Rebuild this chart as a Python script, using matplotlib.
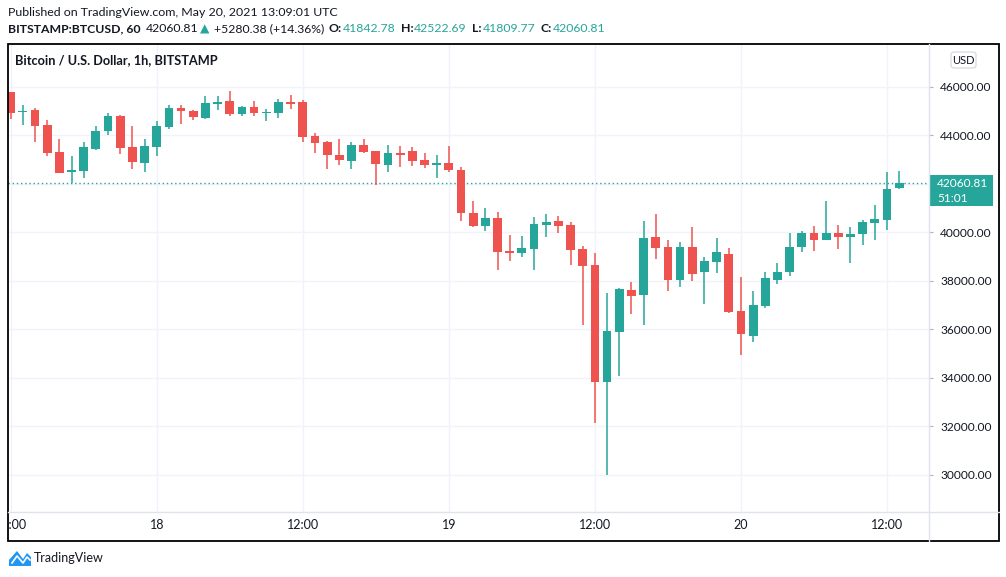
import matplotlib
matplotlib.use("Agg")
import matplotlib.pyplot as plt
from matplotlib.patches import Rectangle, FancyBboxPatch, Polygon
from matplotlib.lines import Line2D
from matplotlib.transforms import Bbox

plt.rcParams['font.family'] = ['Lato', 'DejaVu Sans']

# hourly candles, BITSTAMP:BTCUSD, from May 17 12:00 to May 20 13:00 UTC
opens = [45794, 44957, 45051, 44433, 43332, 42507, 42548, 43455, 44198, 44816,
         43526, 42878, 43538, 44363, 45134, 45010, 44734, 45311, 45423, 44899,
         45175, 44940, 44940, 45381, 45381, 43979, 43732, 43196, 42961, 43608,
         43361, 42796, 43278, 43361, 42990, 42796, 42866, 42577, 40816, 40280,
         40598, 39249, 39166, 39331, 40321, 40474, 40309, 39319, 38659, 33846,
         35909, 37628, 37434, 39814, 39402, 38041, 39402, 38383, 38795, 39113,
         36762, 35743, 36981, 38041, 38383, 39414, 39979, 39703, 39979, 39826,
         39950, 40404, 40527, 41842.78]
highs = [45800, 45258, 45134, 44639, 43855, 43154, 43732, 44392, 44928, 44858,
         44392, 43855, 44598, 45258, 45258, 45051, 45629, 45629, 45835, 45217,
         45423, 45093, 45505, 45670, 45450, 44103, 43760, 43855, 43732, 43855,
         43380, 43608, 43567, 43526, 43278, 43196, 43567, 42713, 41299, 41010,
         40845, 39897, 39855, 40639, 40763, 40680, 40433, 39443, 39154, 37505,
         37700, 37958, 40474, 40763, 39690, 39608, 40227, 38989, 39773, 39360,
         38177, 37599, 38383, 38754, 39979, 40062, 40268, 41299, 40309, 40227,
         40515, 41134, 42495, 42522.69]
lows = [44693, 44445, 43732, 43154, 42450, 42053, 42260, 43420, 44033, 43249,
        42631, 42507, 43154, 44280, 44486, 44651, 44693, 45064, 44816, 44816,
        44816, 44610, 44734, 45105, 43732, 43278, 42618, 42796, 42631, 43278,
        41971, 42507, 42701, 42742, 42672, 42260, 42507, 40474, 40239, 40074,
        38465, 38837, 39001, 38465, 39826, 39991, 38672, 36197, 32156, 30000,
        34082, 36651, 36197, 38907, 37599, 37764, 38000, 37063, 38342, 36692,
        34960, 35496, 36898, 37888, 38218, 39208, 39249, 39703, 39331, 38754,
        39497, 39690, 40115, 41809.77]
closes = [44940, 45010, 44404, 43291, 42466, 42577, 43526, 44185, 44804, 43497,
          42919, 43567, 44392, 45134, 45023, 44775, 45340, 45381, 44899, 45175,
          44940, 44969, 45381, 45311, 43938, 43691, 43196, 42990, 43608, 43319,
          42837, 43278, 43208, 42961, 42796, 42866, 42590, 40816, 40280, 40598,
          39208, 39166, 39360, 40350, 40433, 40280, 39290, 38630, 33846, 35937,
          37669, 37393, 39773, 39373, 38041, 39402, 38300, 38824, 39195, 36733,
          35826, 37010, 38123, 38383, 39402, 39979, 39703, 39979, 39826, 39938,
          40433, 40556, 41794, 42060.81]

tick_idx = [0, 12, 24, 36, 48, 60, 72]
tick_labels = ["12:00", "18", "12:00", "19", "12:00", "20", "12:00"]
price_ticks = [30000, 32000, 34000, 36000, 38000, 40000, 42000, 44000, 46000]

last_price = 42060.81
countdown = "51:01"

UP = "#26a69a"
DOWN = "#ef5350"
TXT = "#131722"
GRID = "#f0f3fa"
SEP = "#e0e3eb"

W, H = 1006, 577
fig = plt.figure(figsize=(W / 100, H / 100), dpi=100)
fig.patch.set_facecolor("white")


def fx(px):
    return px / W


def fy(py):
    return 1 - py / H


# plot area in pixels: x 8..929, y 44..512
ax = fig.add_axes([fx(8), fy(512), fx(929) - fx(8), fy(44) - fy(512)])
ax.set_xlim(-0.22, 75.45)
ax.set_ylim(28473, 47773)
for s in ax.spines.values():
    s.set_visible(False)

# grid
for t in tick_idx:
    ax.axvline(t, color=GRID, lw=1, zorder=0)
for p in price_ticks:
    ax.axhline(p, color=GRID, lw=1, zorder=0)

# candles
xs = list(range(len(opens)))
min_h = 40  # minimum body height so dojis stay visible
for i in xs:
    o, h, l, c = opens[i], highs[i], lows[i], closes[i]
    col = UP if c >= o else DOWN
    ax.vlines(i, l, h, color=col, lw=1.1, zorder=2)
    bot = min(o, c)
    hgt = max(abs(c - o), min_h)
    ax.bar(i, hgt, bottom=bot, width=0.72, color=col, lw=0, zorder=3)

# last price dotted line
ax.axhline(last_price, color=UP, lw=1, ls=(0, (1, 2)), zorder=1)

# x axis
ax.set_xticks(tick_idx)
ax.set_xticklabels(tick_labels)
ax.tick_params(axis="x", length=0, pad=5, labelsize=9, labelcolor=TXT)

# y axis on the right (42000 label is hidden under the last price tag)
ax.yaxis.tick_right()
ax.set_yticks(price_ticks)
ax.set_yticklabels(["" if abs(p - last_price) < 600 else f"{p:.2f}"
                    for p in price_ticks])
ax.tick_params(axis="y", length=3, width=0.8, color="#b2b5be", pad=5,
               labelsize=8.6, labelcolor=TXT)

# clip first x label at the frame (only ":00" visible)
clip = Bbox([[8, 0], [W, H]])
for lbl in ax.get_xticklabels():
    lbl.set_clip_box(clip)
    lbl.set_clip_on(True)

# separators and frame
fig.add_artist(Line2D([fx(929), fx(929)], [fy(44), fy(541)], color=SEP, lw=1))
fig.add_artist(Line2D([fx(8), fx(999)], [fy(512), fy(512)], color=SEP, lw=1))
fig.add_artist(Rectangle((fx(8), fy(541)), fx(999) - fx(8), fy(44) - fy(541),
                         fill=False, ec="black", lw=1.3,
                         transform=fig.transFigure))

# last price label on the axis
fig.add_artist(Rectangle((fx(929), fy(206)), fx(993) - fx(929), fy(175) - fy(206),
                         fc=UP, ec="none", transform=fig.transFigure))
fig.text(fx(937), fy(183.5), f"{last_price:.2f}", color="white", fontsize=8.6,
         va="center", ha="left")
fig.text(fx(937), fy(198), countdown, color="white", fontsize=8.6,
         va="center", ha="left")

# USD box
fig.add_artist(FancyBboxPatch((fx(951), fy(68)), fx(976) - fx(951), fy(52) - fy(68),
                              boxstyle="round,pad=0,rounding_size=0.004",
                              fc="white", ec="#d1d4dc", lw=0.8,
                              transform=fig.transFigure))
fig.text(fx(963.5), fy(60), "USD", color=TXT, fontsize=8, ha="center", va="center")

# chart legend
fig.text(fx(15), fy(60), "Bitcoin / U.S. Dollar, 1h, BITSTAMP", color=TXT,
         fontsize=9.2, fontweight="bold", va="center")

# header lines
fig.text(fx(8), fy(12), "Published on TradingView.com, May 20, 2021 13:09:01 UTC",
         color=TXT, fontsize=8.9, va="center")

renderer = fig.canvas.get_renderer()
pieces = [
    ("BITSTAMP:BTCUSD, 60", TXT, "bold", 5),
    (f"{last_price:.2f}", TXT, "normal", 2),
    ("\u25b2", UP, "normal", 4),
    ("+5280.38 (+14.36%)", TXT, "normal", 5),
    ("O:", TXT, "bold", 1),
    (f"{opens[-1]:.2f}", UP, "normal", 5),
    ("H:", TXT, "bold", 1),
    (f"{highs[-1]:.2f}", UP, "normal", 5),
    ("L:", TXT, "bold", 1),
    (f"{lows[-1]:.2f}", UP, "normal", 5),
    ("C:", TXT, "bold", 1),
    (f"{closes[-1]:.2f}", UP, "normal", 0),
]
xpos = 8
for txt, col, wt, gap in pieces:
    t = fig.text(fx(xpos), fy(29), txt, color=col, fontsize=8.8, fontweight=wt,
                 va="center")
    bb = t.get_window_extent(renderer)
    xpos = bb.x1 + gap

# footer logo
fig.add_artist(Polygon([(fx(9), fy(566)), (fx(9), fy(560)), (fx(17), fy(551)),
                        (fx(23), fy(559)), (fx(27), fy(553)), (fx(31), fy(557)),
                        (fx(31), fy(566))], closed=True, fc="#2196f3", ec="none",
                       transform=fig.transFigure))
fig.add_artist(Line2D([fx(12), fx(17), fx(23), fx(27), fx(30)],
                      [fy(563), fy(556), fy(563), fy(557), fy(560)],
                      color="white", lw=1.2))
fig.text(fx(34), fy(558), "TradingView", color=TXT, fontsize=9, va="center")

fig.savefig("out.png", dpi=100)
